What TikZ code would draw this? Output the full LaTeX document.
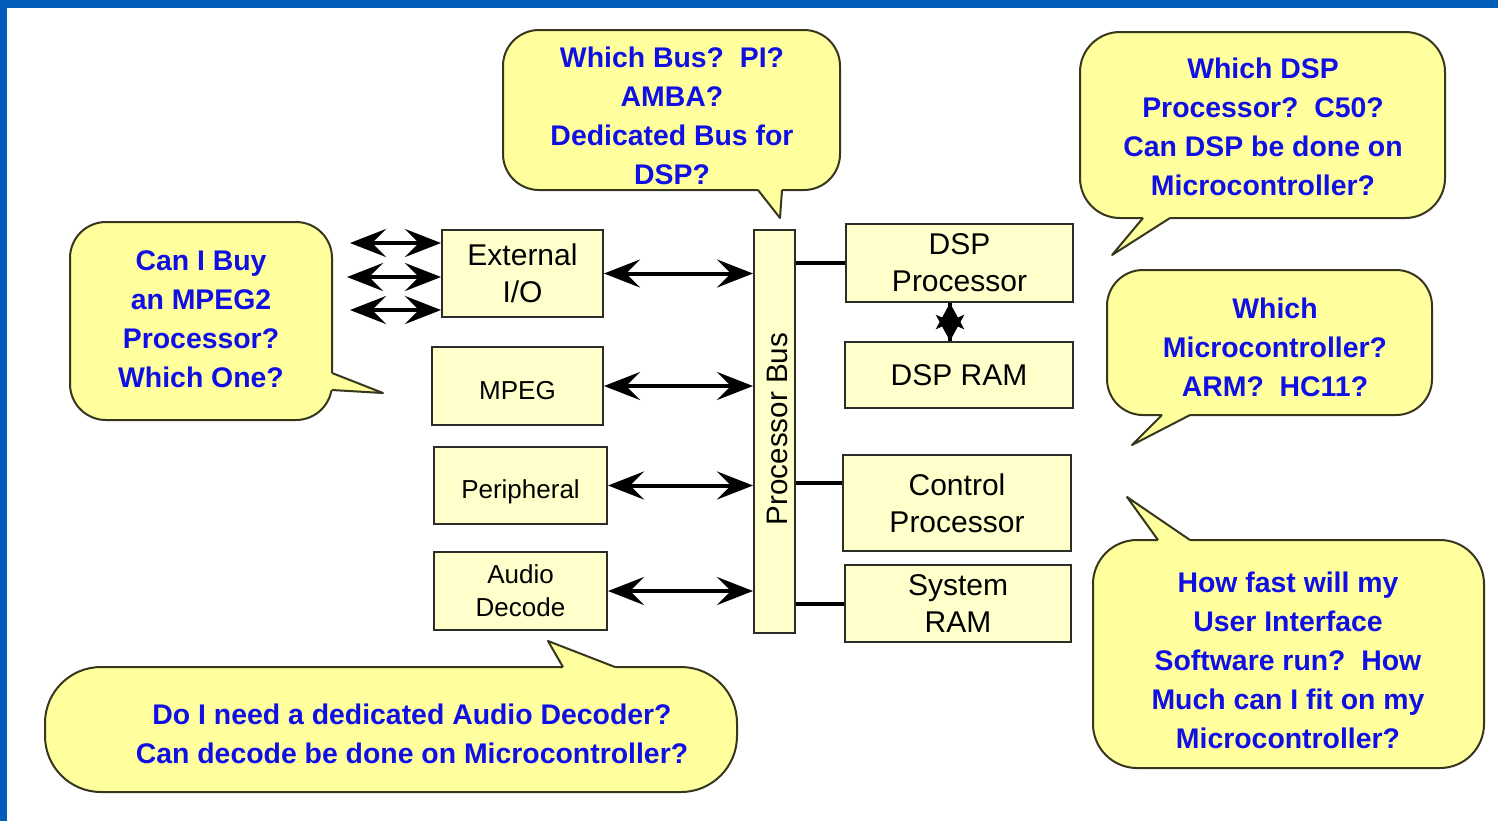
\documentclass[tikz,border=0pt]{standalone}
\usepackage{fontspec}
\setmainfont{Liberation Sans}
\usetikzlibrary{arrows.meta}

\definecolor{frameblue}{RGB}{0,94,184}
\definecolor{boxfill}{RGB}{255,255,204}
\definecolor{bubblefill}{RGB}{255,255,158}
\definecolor{boxedge}{RGB}{45,45,40}
\definecolor{bubbleedge}{RGB}{55,55,30}
\definecolor{qblue}{RGB}{16,16,228}

\tikzset{
  blk/.style={draw=boxedge, fill=boxfill, line width=1pt, align=center,
    inner sep=0pt, font=\fontsize{15}{18.5}\selectfont},
  smallblk/.style={blk, font=\fontsize{13}{16.5}\selectfont},
  bubble/.style={draw=bubbleedge, fill=bubblefill, line width=1pt},
  tailfill/.style={fill=bubblefill},
  tailline/.style={draw=bubbleedge, line width=1pt, line join=round},
  qtext/.style={text=qblue, align=center, inner sep=0pt,
    font=\fontsize{14.2}{19.5}\selectfont\bfseries},
  bighead/.tip={Stealth[length=18pt,width=14pt,inset=7pt]},
  bi/.style={line width=2pt, bighead-bighead},
  onehead/.style={line width=2pt, -{Stealth[length=13pt,width=14pt,inset=3pt]}},
  busline/.style={line width=2pt},
}

\begin{document}
\begin{tikzpicture}[x=0.5pt, y=-0.5pt]
\useasboundingbox (0,0) rectangle (1498,821);
\fill[white] (0,0) rectangle (1498,821);
% slide frame
\fill[frameblue] (0,0) rectangle (1498,8);
\fill[frameblue] (0,0) rectangle (7,821);

% ---------- speech bubbles ----------
% bus question (tail down)
\draw[bubble, rounded corners=18pt] (503,30) rectangle (840,190);
\fill[tailfill] (758,190) -- (780,218) -- (782,190) -- (782,183) -- (758,183) -- cycle;
\draw[tailline] (758,190) -- (780,218) -- (782,190);

% DSP question (tail down-left)
\draw[bubble, rounded corners=20pt] (1080,32) rectangle (1445,218);
\fill[tailfill] (1143,218) -- (1112,255) -- (1170,218) -- (1170,211) -- (1143,211) -- cycle;
\draw[tailline] (1143,218) -- (1112,255) -- (1170,218);

% microcontroller question (tail down-left)
\draw[bubble, rounded corners=18pt] (1107,270) rectangle (1432,415);
\fill[tailfill] (1162,415) -- (1132,445) -- (1190,415) -- (1190,408) -- (1162,408) -- cycle;
\draw[tailline] (1162,415) -- (1132,445) -- (1190,415);

% user interface question (tail up-left)
\draw[bubble, rounded corners=22pt] (1093,540) rectangle (1484,768);
\fill[tailfill] (1158,540) -- (1127,497) -- (1190,540) -- (1190,547) -- (1158,547) -- cycle;
\draw[tailline] (1158,540) -- (1127,497) -- (1190,540);

% MPEG question (tail right)
\draw[bubble, rounded corners=18pt] (70,222) rectangle (332,420);
\fill[tailfill] (332,373) -- (383,393) -- (332,390) -- (325,390) -- (325,373) -- cycle;
\draw[tailline] (332,373) -- (383,393) -- (332,390);

% audio question (tail up)
\draw[bubble, rounded corners=28pt] (45,667) rectangle (737,792);
\fill[tailfill] (563,667) -- (548,641) -- (615,667) -- (615,674) -- (563,674) -- cycle;
\draw[tailline] (563,667) -- (548,641) -- (615,667);

\node[qtext] (qbus) at (672,116) {Which Bus?\ \ PI?\\AMBA?\\Dedicated Bus for\\DSP?};
\node[qtext] (qdsp) at (1263,127) {Which DSP\\Processor?\ \ C50?\\Can DSP be done on\\Microcontroller?};
\node[qtext] (qmcu) at (1275,347) {Which\\Microcontroller?\\ARM?\ \ HC11?};
\node[qtext] (qui) at (1288,660) {How fast will my\\User Interface\\Software run?\ \ How\\Much can I fit on my\\Microcontroller?};
\node[qtext] (qmpeg) at (201,319) {Can I Buy\\an MPEG2\\Processor?\\Which One?};
\node[qtext] (qaudio) at (412,734) {Do I need a dedicated Audio Decoder?\\Can decode be done on Microcontroller?};

% ---------- blocks ----------
\node[blk, minimum width=80.5pt, minimum height=43.5pt] (ext) at (522.5,273.5) {External\\I/O};
\node[smallblk, minimum width=85.5pt, minimum height=39pt, text height=14pt] (mpeg) at (517.5,386) {MPEG};
\node[smallblk, minimum width=86.5pt, minimum height=38.5pt, text height=16pt] (peri) at (520.5,485.5) {Peripheral};
\node[smallblk, minimum width=86.5pt, minimum height=39pt] (audio) at (520.5,591) {Audio\\Decode};

\node[blk, minimum width=20.5pt, minimum height=201.5pt] (bus) at (774.5,431.5) {};
\node[rotate=90, inner sep=0pt, font=\fontsize{14.8}{17}\selectfont] (buslabel) at (777,429) {Processor Bus};

\node[blk, minimum width=113.5pt, minimum height=39pt] (dsp) at (959.5,263) {DSP\\Processor};
\node[blk, minimum width=114pt, minimum height=33pt] (dspram) at (959,375) {DSP RAM};
\node[blk, minimum width=114pt, minimum height=48pt] (ctrl) at (957,503) {Control\\Processor};
\node[blk, minimum width=113pt, minimum height=38.5pt] (sysram) at (958,603.5) {System\\RAM};

% ---------- connections ----------
\draw[bi] (ext.east) -- (ext.east -| bus.west);
\draw[bi] (mpeg.east) -- (mpeg.east -| bus.west);
\draw[bi] (peri.east) -- (peri.east -| bus.west);
\draw[bi] (audio.east) -- (audio.east -| bus.west);

\coordinate (io1) at (350,243);
\coordinate (io2) at (347,277);
\coordinate (io3) at (350,310);
\draw[bi] (io1) -- (io1 -| ext.west);
\draw[bi] (io2) -- (io2 -| ext.west);
\draw[bi] (io3) -- (io3 -| ext.west);

\draw[busline] (dsp.west) -- (dsp.west -| bus.east);
\draw[busline] ([yshift=10pt]ctrl.west) -- ([yshift=10pt]ctrl.west -| bus.east);
\draw[busline] (sysram.west) -- (sysram.west -| bus.east);

% DSP <-> DSP RAM: two opposing heads overlapping on a short link
\coordinate (memx) at (950,0);
\draw[onehead] (dspram.north -| memx) -- (dsp.south -| memx);
\draw[onehead] (dsp.south -| memx) -- (dspram.north -| memx);
\end{tikzpicture}
\end{document}
